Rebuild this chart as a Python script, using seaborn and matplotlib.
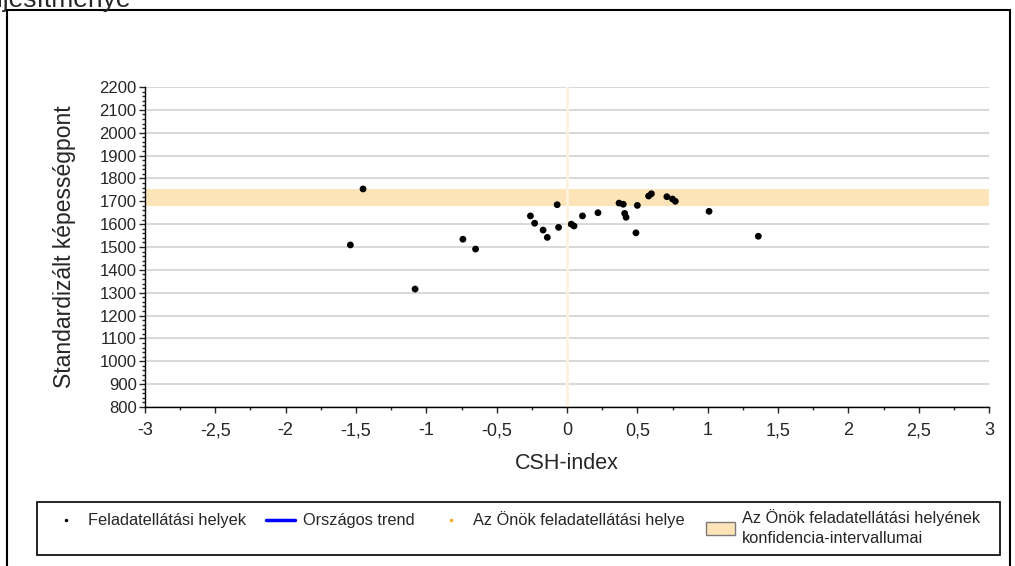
import numpy as np
import pandas as pd
import matplotlib
matplotlib.use("Agg")
import matplotlib.pyplot as plt
import seaborn as sns
from matplotlib.patches import Rectangle
from matplotlib.lines import Line2D
from matplotlib.ticker import MultipleLocator, FuncFormatter

# Adatok - feladatellátási helyek (CSH-index, standardizált képességpont)
csh_index = [-1.45, -1.54, -1.08, -0.74, -0.65, -0.26, -0.23, -0.17, -0.14,
             -0.07, -0.06, 0.03, 0.05, 0.11, 0.22, 0.37, 0.40, 0.41, 0.42,
             0.50, 0.49, 0.58, 0.60, 0.71, 0.75, 0.77, 1.01, 1.36]
kepessegpont = [1754, 1509, 1316, 1534, 1491, 1636, 1604, 1574, 1542,
                1685, 1586, 1600, 1592, 1636, 1650, 1692, 1687, 1647, 1630,
                1682, 1562, 1723, 1733, 1720, 1710, 1700, 1656, 1547]
konf_also = 1680
konf_felso = 1752
sajat_csh = 0.0

legend_labels = ["Feladatellátási helyek", "Országos trend", "Az Önök feladatellátási helye",
                 "Az Önök feladatellátási helyének\nkonfidencia-intervallumai"]

df = pd.DataFrame({"CSH": csh_index, "Pont": kepessegpont})

sns.set_style("white")
plt.rcParams["font.family"] = ["Liberation Sans", "DejaVu Sans"]

W, H = 1015, 566
fig = plt.figure(figsize=(W / 100, H / 100), dpi=100)


def fx(px):
    return px / W


def fy(py):
    return 1 - py / H


ax = fig.add_axes([fx(145), fy(407), fx(989 - 145), (407 - 87) / H])

# konfidencia-intervallum és saját hely
ax.axhspan(konf_also, konf_felso, color="#fde4b8", lw=0, zorder=1)
ax.axvline(sajat_csh, color="#fef1dd", lw=2, zorder=1)

sns.scatterplot(data=df, x="CSH", y="Pont", ax=ax, color="black", s=24,
                edgecolor="none", zorder=3, legend=False)

ax.set_xlim(-3, 3)
ax.set_ylim(800, 2200)
ax.xaxis.set_major_locator(MultipleLocator(0.5))
ax.xaxis.set_minor_locator(MultipleLocator(0.25))
ax.yaxis.set_major_locator(MultipleLocator(100))
ax.yaxis.set_minor_locator(MultipleLocator(20))
ax.xaxis.set_major_formatter(FuncFormatter(lambda v, p: f"{v:g}".replace(".", ",")))
ax.grid(axis="y", color="#d2d2d2", lw=1.2, zorder=0)
ax.set_axisbelow(True)
for s in ["top", "right"]:
    ax.spines[s].set_visible(False)
for s in ["left", "bottom"]:
    ax.spines[s].set_color("black")
    ax.spines[s].set_linewidth(1)
ax.tick_params(which="major", direction="out", length=4, width=1,
               bottom=True, left=True)
ax.tick_params(which="minor", direction="out", length=2, width=1, bottom=True, left=True)
ax.tick_params(axis="x", labelsize=13, pad=7)
ax.tick_params(axis="y", labelsize=12, pad=2)
ax.set_xlabel("CSH-index", fontsize=15.5, labelpad=10)
ax.set_ylabel("Standardizált képességpont", fontsize=16.5, labelpad=17)

# külső keret és levágott cím
fig.patches.append(Rectangle((fx(7), -0.1), fx(1003), 1.1 - 10 / H,
                             transform=fig.transFigure, fill=False,
                             edgecolor="black", lw=1.5))
fig.text(-0.03, 1.0, "Teljesítménye", fontsize=19, va="center", ha="left")

# jelmagyarázat
fig.patches.append(Rectangle((fx(37), fy(555)), fx(1000 - 37), (555 - 502) / H,
                             transform=fig.transFigure, fill=False,
                             edgecolor="black", lw=1.2))
ly = fy(520)
fig.add_artist(Line2D([fx(66)], [ly], marker="o", color="black", markersize=1.5,
                      transform=fig.transFigure))
fig.add_artist(Line2D([fx(266), fx(295)], [ly, ly], color="#0000ff", lw=2.5,
                      transform=fig.transFigure))
fig.add_artist(Line2D([fx(451)], [ly], marker="o", color="#f5a623", markersize=1.5,
                      transform=fig.transFigure))
fig.patches.append(Rectangle((fx(706), fy(535)), fx(735 - 706), (535 - 522) / H,
                             transform=fig.transFigure, facecolor="#fde4b8",
                             edgecolor="#7a7a7a", lw=1))
for x0, y0, txt in [(88, 520, legend_labels[0]), (303, 520, legend_labels[1]),
                    (473, 520, legend_labels[2]), (742, 527.5, legend_labels[3])]:
    fig.text(fx(x0), fy(y0), txt, fontsize=11.8, va="center", ha="left",
             linespacing=1.35)

fig.savefig("out.png", dpi=100)
